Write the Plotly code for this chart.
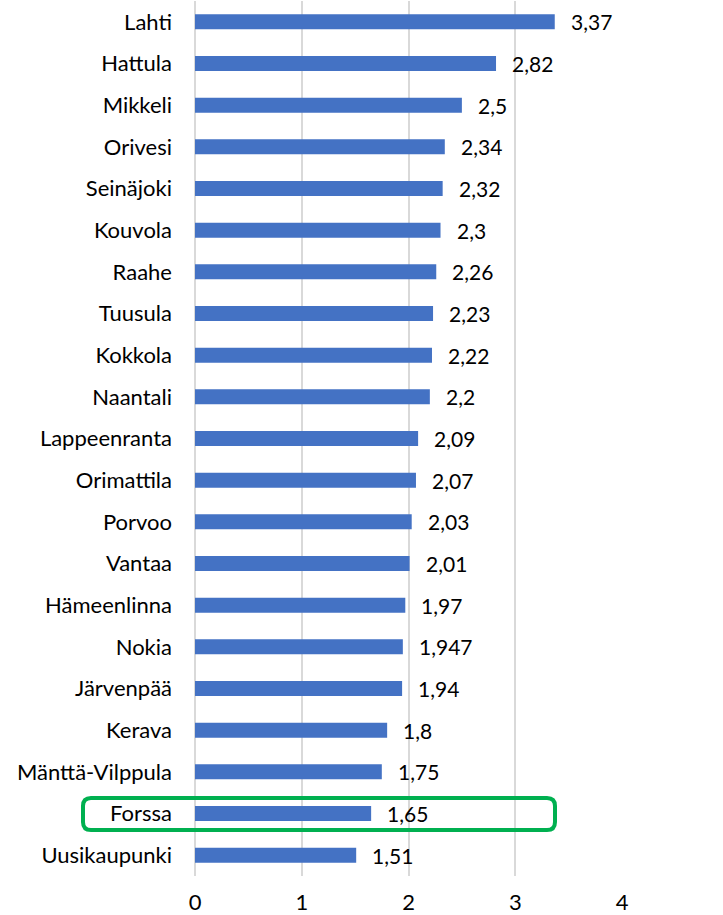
import plotly.graph_objects as go

categories = ["Lahti", "Hattula", "Mikkeli", "Orivesi", "Seinäjoki", "Kouvola", "Raahe",
              "Tuusula", "Kokkola", "Naantali", "Lappeenranta", "Orimattila", "Porvoo",
              "Vantaa", "Hämeenlinna", "Nokia", "Järvenpää", "Kerava", "Mänttä-Vilppula",
              "Forssa", "Uusikaupunki"]
values = [3.37, 2.82, 2.5, 2.34, 2.32, 2.3, 2.26, 2.23, 2.22, 2.2, 2.09, 2.07, 2.03,
          2.01, 1.97, 1.947, 1.94, 1.8, 1.75, 1.65, 1.51]
x_ticks = [0, 1, 2, 3, 4]
labels = [str(v).replace(".", ",") for v in values]

FONT = "Lato"
FS = 22
fig = go.Figure()
fig.add_trace(go.Bar(
    x=values, y=categories, orientation="h",
    marker=dict(color="#4472C4", line=dict(width=0)),
    width=0.36, hoverinfo="skip",
))

for v, c, t in zip(values, categories, labels):
    fig.add_annotation(x=v, y=c, text=t, showarrow=False, xanchor="left",
                       xshift=14, font=dict(family=FONT, size=21, color="#000000"))

# green rounded highlight box around Forssa (paper coordinates)
x0, x1 = -0.2623, 0.8431
y0, y1 = 0.0526, 0.0891
rx, ry = 8 / 427, 8 / 875
path = (f"M {x0+rx},{y1} L {x1-rx},{y1} Q {x1},{y1} {x1},{y1-ry} "
        f"L {x1},{y0+ry} Q {x1},{y0} {x1-rx},{y0} L {x0+rx},{y0} "
        f"Q {x0},{y0} {x0},{y0+ry} L {x0},{y1-ry} Q {x0},{y1} {x0+rx},{y1} Z")
fig.add_shape(type="path", path=path, xref="paper", yref="paper",
              line=dict(color="#00B050", width=4), layer="above")

fig.update_layout(
    width=723, height=915,
    margin=dict(l=195, r=101, t=1, b=39, autoexpand=False),
    plot_bgcolor="white", paper_bgcolor="white",
    showlegend=False,
    font=dict(family=FONT, size=FS, color="#000000"),
    xaxis=dict(range=[0, 4], tickvals=x_ticks, ticktext=[str(t) for t in x_ticks],
               showgrid=True, gridcolor="#D9D9D9", gridwidth=1.5,
               zeroline=True, zerolinecolor="#D9D9D9", zerolinewidth=1.5,
               showline=False, ticks="", ticklabelstandoff=11, automargin=False,
               tickfont=dict(family=FONT, size=FS, color="#000000"), fixedrange=True),
    yaxis=dict(categoryorder="array", categoryarray=categories, autorange="reversed",
               showgrid=False, zeroline=False, showline=False, ticks="",
               ticklabelstandoff=22, automargin=False,
               tickfont=dict(family=FONT, size=FS, color="#000000"), fixedrange=True),
)

fig.write_html("out.html", config={"displayModeBar": False},
               post_script="document.body.style.margin='0';document.body.style.overflow='hidden';")
